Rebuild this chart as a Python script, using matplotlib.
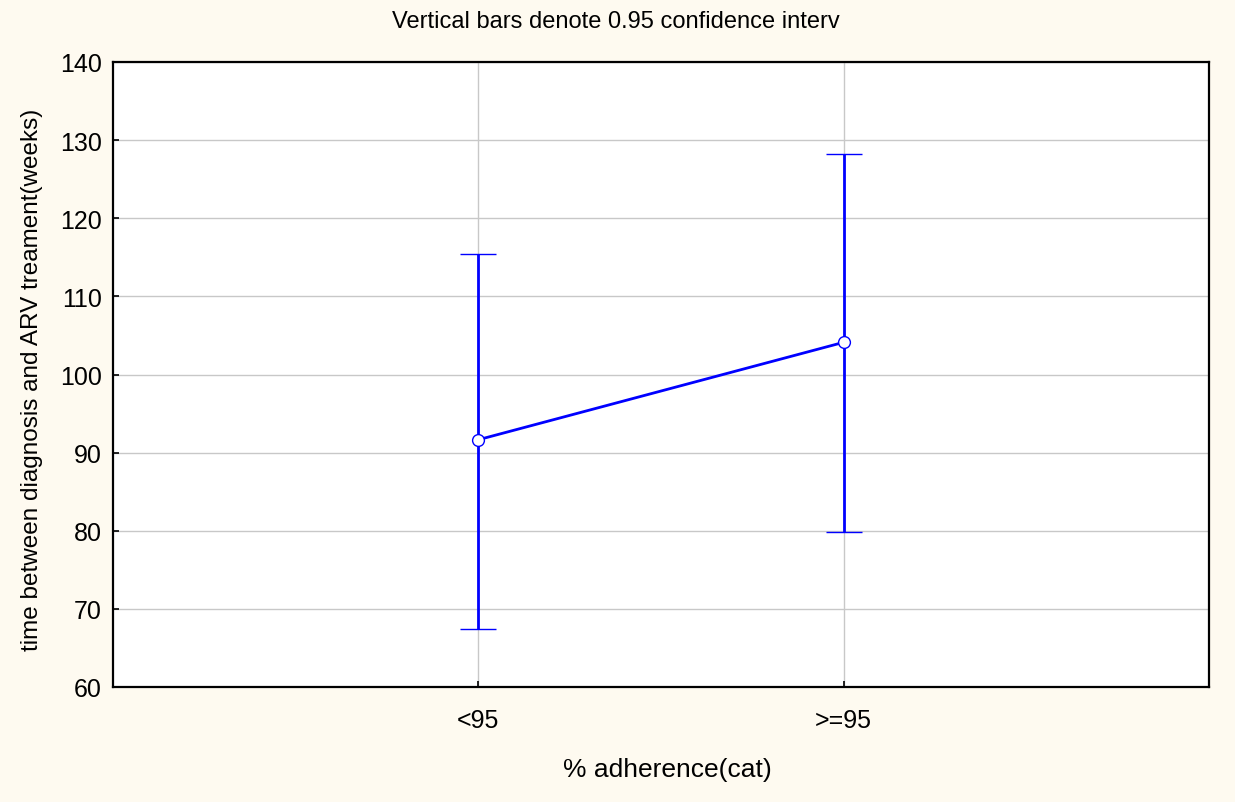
import matplotlib
matplotlib.use("Agg")
import matplotlib.pyplot as plt
import numpy as np

# Group means and 0.95 confidence limits
categories = ["<95", ">=95"]
means = [91.65, 104.12]
lower = [67.42, 79.9]
upper = [115.42, 128.19]
y_ticks = [60, 70, 80, 90, 100, 110, 120, 130, 140]

plt.rcParams["font.family"] = ["Liberation Sans", "DejaVu Sans"]

fig = plt.figure(figsize=(12.35, 8.03), dpi=100)
fig.patch.set_facecolor("#FEFAF0")
ax = fig.add_axes([113 / 1235, 1 - 688 / 803, (1209 - 113) / 1235, (688 - 63) / 803])
ax.set_facecolor("white")

x = np.arange(len(categories))
m = np.array(means)
err = np.vstack([m - np.array(lower), np.array(upper) - m])

ax.errorbar(x, m, yerr=err, color="#0000FF", lw=2.0, elinewidth=2.0,
            capsize=13, capthick=2.0, marker="o", markersize=8.5,
            markerfacecolor="white", markeredgecolor="#0000FF",
            markeredgewidth=1.0, zorder=3)

ax.set_xlim(-1, 2)
ax.set_ylim(60, 140)
ax.set_xticks(x)
ax.set_xticklabels(categories)
ax.set_yticks(y_ticks)

ax.grid(True, color="#C8C8C8", lw=1.0, zorder=0)
ax.set_axisbelow(True)
for s in ax.spines.values():
    s.set_linewidth(1.6)
    s.set_color("black")

ax.tick_params(direction="in", length=4, width=1.2, colors="black",
               labelsize=18, pad=8)
ax.tick_params(axis="x", pad=15)

fig.text(616 / 1235, 1 - 22 / 803, "Vertical bars denote 0.95 confidence interv",
         ha="center", va="center", fontsize=17)
fig.text(667 / 1235, 1 - 770 / 803, "% adherence(cat)",
         ha="center", va="center", fontsize=19)
fig.text(32 / 1235, 1 - 380 / 803, "time between diagnosis and ARV treament(weeks)",
         ha="center", va="center", rotation=90, fontsize=17.5)

fig.savefig("out.png", dpi=100, facecolor=fig.get_facecolor())
